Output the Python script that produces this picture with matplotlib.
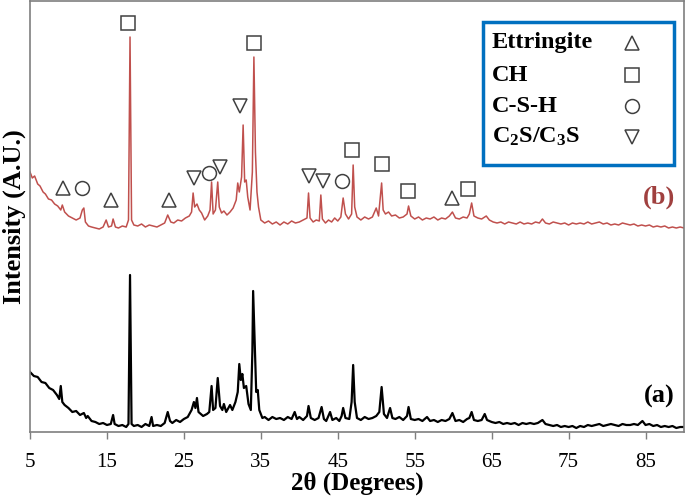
import numpy as np
import matplotlib
matplotlib.use("Agg")
import matplotlib.pyplot as plt
from matplotlib.patches import Rectangle

plt.rcParams['font.family'] = ['Liberation Serif', 'DejaVu Serif']
plt.rcParams['mathtext.fontset'] = 'custom'
plt.rcParams['mathtext.rm'] = 'Liberation Serif:bold'
plt.rcParams['mathtext.bf'] = 'Liberation Serif:bold'
plt.rcParams['mathtext.it'] = 'Liberation Serif:bold'

# trace (a) - black (2theta, intensity a.u.)
a_x = [5.0, 5.5, 6.0, 6.5, 7.0, 7.5, 8.0, 8.5, 8.8, 9.0, 9.2, 9.5, 10.0, 10.5, 11.0, 11.5,
       12.0, 12.3, 12.5, 13.0, 13.5, 14.0, 14.5, 15.0, 15.5, 15.8, 16.0, 16.5, 17.0, 17.5,
       17.8, 18.0, 18.2, 18.5, 19.0, 19.5, 20.0, 20.5, 20.8, 21.0, 21.5, 22.0, 22.5, 22.9,
       23.2, 23.5, 24.0, 24.5, 25.0, 25.5, 26.0, 26.3, 26.5, 26.7, 26.9, 27.2, 27.5, 28.0,
       28.3, 28.6, 28.8, 29.1, 29.4, 29.7, 30.0, 30.2, 30.5, 31.0, 31.3, 31.7, 32.0, 32.2,
       32.4, 32.6, 32.8, 33.1, 33.4, 33.7, 33.9, 34.0, 34.2, 34.4, 34.6, 34.8, 35.2, 35.5,
       36.0, 36.5, 37.0, 37.5, 38.0, 38.5, 39.0, 39.4, 39.7, 40.0, 40.5, 41.0, 41.2, 41.5,
       42.0, 42.5, 42.9, 43.2, 43.5, 44.0, 44.3, 44.8, 45.2, 45.5, 45.7, 46.0, 46.5, 46.8,
       47.0, 47.2, 47.5, 48.0, 48.5, 49.0, 49.5, 50.0, 50.4, 50.7, 51.0, 51.4, 51.8, 52.1,
       52.5, 53.0, 53.5, 54.0, 54.2, 54.5, 55.0, 55.5, 56.0, 56.6, 57.0, 57.5, 58.0, 58.5,
       59.0, 59.5, 59.9, 60.3, 60.8, 61.3, 61.8, 62.1, 62.4, 62.7, 63.2, 63.7, 64.1, 64.4,
       65.0, 65.5, 66.0, 66.5, 67.0, 67.5, 68.0, 68.5, 69.0, 69.5, 70.0, 70.5, 71.0, 71.6,
       72.0, 72.5, 73.0, 73.5, 74.0, 74.5, 75.0, 75.5, 76.0, 76.5, 77.0, 77.5, 78.0, 78.5,
       79.0, 79.5, 80.0, 80.5, 81.0, 81.5, 82.0, 82.5, 83.0, 83.5, 84.0, 84.6, 85.0, 85.5,
       86.0, 86.5, 87.0, 87.5, 88.0, 88.5, 89.0, 89.5, 90.0]
a_y = [60, 56, 55, 50, 49, 44, 42, 37, 33, 46, 30, 27, 24, 20, 21, 17,
       19, 14, 16, 11, 10, 8, 9, 7, 8, 17, 8, 6, 7, 5,
       8, 157, 8, 6, 7, 5, 8, 6, 15, 6, 7, 6, 9, 20,
       11, 9, 12, 10, 13, 15, 22, 30, 24, 34, 20, 18, 16, 18,
       20, 46, 22, 24, 54, 26, 22, 28, 20, 27, 22, 30, 40, 68,
       52, 58, 44, 46, 28, 22, 80, 141, 90, 40, 42, 22, 14, 15,
       12, 15, 13, 14, 12, 15, 13, 20, 13, 15, 12, 16, 26, 14,
       12, 14, 25, 13, 11, 20, 12, 14, 11, 16, 24, 14, 13, 30,
       67, 30, 14, 12, 15, 13, 14, 16, 20, 45, 18, 14, 24, 14,
       13, 15, 12, 16, 25, 13, 12, 13, 11, 15, 11, 12, 10, 12,
       11, 13, 19, 11, 12, 10, 13, 14, 20, 12, 11, 12, 18, 12,
       10, 9, 10, 8, 9, 8, 9, 7, 9, 8, 9, 8, 9, 12,
       8, 7, 6, 7, 5, 6, 5, 6, 4, 6, 5, 7, 6, 7,
       8, 6, 7, 8, 7, 6, 8, 7, 7, 8, 7, 11, 7, 8,
       6, 7, 5, 6, 5, 6, 4, 5, 5]

# trace (b) - red
b_x = [5.0, 5.3, 5.6, 6.0, 6.3, 6.7, 7.0, 7.4, 7.8, 8.2, 8.6, 9.0, 9.2, 9.5, 10.0, 10.5,
       11.0, 11.5, 11.8, 12.0, 12.2, 12.6, 13.0, 13.5, 14.0, 14.5, 14.9, 15.2, 15.6, 15.8,
       16.1, 16.5, 17.0, 17.5, 17.8, 18.0, 18.2, 18.5, 19.0, 19.5, 20.0, 20.5, 21.0, 21.5,
       22.0, 22.5, 22.9, 23.3, 23.7, 24.2, 24.7, 25.2, 25.7, 26.0, 26.2, 26.4, 26.7, 27.0,
       27.3, 27.7, 28.1, 28.4, 28.6, 28.8, 29.1, 29.4, 29.6, 29.9, 30.2, 30.6, 31.0, 31.4,
       31.8, 32.0, 32.2, 32.5, 32.7, 32.9, 33.1, 33.3, 33.6, 33.9, 34.1, 34.3, 34.5, 34.7,
       35.0, 35.5, 36.0, 36.5, 37.0, 37.5, 38.0, 38.5, 39.0, 39.5, 40.0, 40.5, 41.0, 41.2,
       41.4, 41.8, 42.2, 42.6, 42.8, 43.0, 43.4, 43.8, 44.2, 44.6, 45.0, 45.4, 45.7, 46.0,
       46.4, 46.8, 47.0, 47.2, 47.5, 48.0, 48.5, 49.0, 49.5, 50.0, 50.3, 50.7, 50.9, 51.2,
       51.6, 52.0, 52.5, 53.0, 53.5, 54.0, 54.2, 54.5, 55.0, 55.5, 56.0, 56.5, 57.0, 57.5,
       58.0, 58.5, 59.0, 59.5, 59.9, 60.3, 60.8, 61.3, 61.8, 62.1, 62.4, 62.7, 63.2, 63.7,
       64.3, 64.7, 65.2, 65.7, 66.2, 66.7, 67.2, 67.7, 68.2, 68.7, 69.2, 69.7, 70.2, 70.7,
       71.2, 71.6, 72.0, 72.5, 73.0, 73.5, 74.0, 74.5, 75.0, 75.5, 76.0, 76.5, 77.0, 77.5,
       78.0, 78.5, 79.0, 79.5, 80.0, 80.5, 81.0, 81.5, 82.0, 82.5, 83.0, 83.5, 84.0, 84.5,
       85.0, 85.5, 86.0, 86.5, 87.0, 87.5, 88.0, 88.5, 89.0, 89.5, 90.0]
b_y = [260, 254, 256, 248, 246, 240, 238, 233, 232, 228, 226, 222, 227, 220, 216, 214,
       212, 214, 222, 224, 210, 206, 205, 204, 203, 205, 212, 205, 206, 213,
       205, 204, 206, 205, 212, 395, 212, 207, 206, 208, 205, 207, 206, 205,
       207, 209, 217, 210, 209, 212, 211, 214, 216, 220, 239, 225, 228, 222,
       219, 212, 216, 222, 250, 218, 222, 250, 225, 219, 221, 217, 220, 224,
       232, 249, 240, 255, 307, 250, 252, 235, 222, 260, 375, 280, 240, 225,
       212, 209, 211, 208, 210, 207, 210, 208, 211, 209, 210, 212, 214, 239,
       214, 210, 212, 211, 237, 213, 209, 212, 210, 214, 211, 215, 234, 218,
       213, 218, 267, 225, 215, 212, 215, 213, 215, 224, 216, 249, 222, 218,
       220, 216, 217, 214, 215, 218, 226, 216, 213, 215, 212, 214, 213, 215,
       212, 214, 213, 216, 220, 214, 213, 215, 214, 218, 229, 216, 214, 213,
       216, 212, 210, 209, 210, 208, 210, 209, 208, 210, 208, 209, 208, 210,
       209, 213, 209, 208, 210, 209, 208, 209, 207, 209, 208, 209, 208, 210,
       208, 209, 210, 208, 209, 207, 208, 207, 209, 208, 207, 208, 206, 207,
       206, 207, 205, 206, 205, 206, 204, 205, 204, 205, 204]

# phase markers above trace (b)
ettringite_x = [9.3, 15.5, 23.05, 59.9]
ettringite_y = [244, 232, 232, 234]
ch_x = [17.7, 34.1, 46.8, 50.7, 54.1, 61.9]
ch_y = [409, 389, 282, 268, 241, 243]
csh_x = [11.75, 28.25, 45.5]
csh_y = [244, 259, 251]
c2s_x = [26.3, 29.7, 32.3, 41.2, 43.05]
c2s_y = [254, 265, 326, 256, 251]

legend_labels = ['Ettringite', 'CH', 'C-S-H', r'C$_{\mathbf{2}}$S/C$_{\mathbf{3}}$S']
legend_markers = ['^', 's', 'o', 'v']

xticks = [5, 15, 25, 35, 45, 55, 65, 75, 85]

fig = plt.figure(figsize=(6.85, 4.99), dpi=100)
ax = fig.add_axes([30 / 685, 67 / 499, 654 / 685, 431 / 499])

ax.plot(b_x, b_y, color='#C0504D', lw=1.1)
ax.plot(a_x, a_y, color='black', lw=1.6)

mk = dict(linestyle='none', markerfacecolor='none', markeredgecolor='#404040', markeredgewidth=1.1)
ax.plot(ettringite_x, ettringite_y, marker='^', markersize=10, **mk)
ax.plot(ch_x, ch_y, marker='s', markersize=9.5, **mk)
ax.plot(csh_x, csh_y, marker='o', markersize=10, **mk)
ax.plot(c2s_x, c2s_y, marker='v', markersize=10, **mk)

ax.text(0.962, 0.545, '(b)', transform=ax.transAxes, ha='center', va='center',
        fontsize=19, fontweight='bold', color='#A0403F')
ax.text(0.962, 0.082, '(a)', transform=ax.transAxes, ha='center', va='center',
        fontsize=19, fontweight='bold', color='black')

# legend box
ax.add_patch(Rectangle((0.6927, 0.6195), 0.292, 0.3318, transform=ax.transAxes,
                       fill=False, edgecolor='#0070C0', lw=2.5, zorder=5))
rows = [0.9026, 0.828, 0.756, 0.684]
for lab, m, yy in zip(legend_labels, legend_markers, rows):
    ax.text(0.706, yy, lab, transform=ax.transAxes, ha='left', va='center',
            fontsize=17.5, fontweight='bold')
    ax.plot([0.92], [yy], marker=m, markersize=10 if m != 's' else 9.5,
            transform=ax.transAxes, **mk)

ax.set_xlim(5, 90)
ax.set_ylim(0, 431)
ax.set_xticks(xticks)
ax.set_yticks([])
ax.tick_params(axis='x', direction='out', length=5, width=1, color='#7f7f7f',
               labelsize=15, pad=10)
for s in ax.spines.values():
    s.set_color('#7f7f7f')
    s.set_linewidth(1.2)

ax.set_xlabel('2θ (Degrees)', fontsize=18, fontweight='bold', labelpad=0)
ax.set_ylabel('Intensity (A.U.)', fontsize=19, fontweight='bold', labelpad=3)

fig.savefig('out.png', dpi=100)
